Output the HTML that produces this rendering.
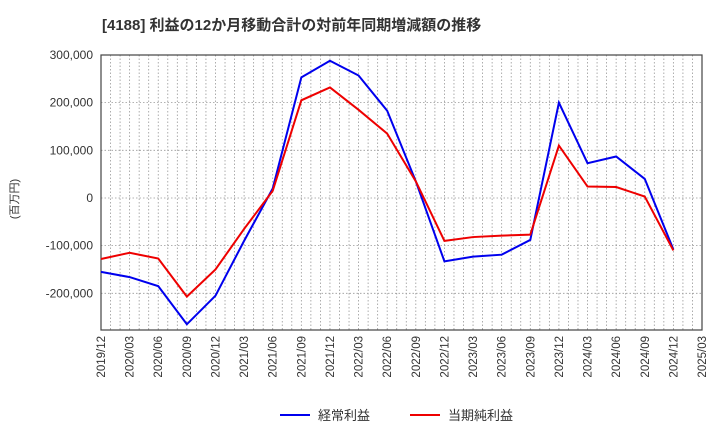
<!DOCTYPE html>
<html><head><meta charset="utf-8"><style>
body{margin:0;background:#fff;font-family:"Liberation Sans","Noto Sans CJK JP",sans-serif}
</style></head><body>
<svg id="c" width="720" height="440" xmlns="http://www.w3.org/2000/svg">
<text x="102" y="30" font-size="15" font-weight="bold" fill="#333">[4188]  利益の12か月移動合計の対前年同期増減額の推移</text>
<text transform="translate(18,199) rotate(-90)" font-size="11" fill="#333" text-anchor="middle">(百万円)</text>
<g id="grid"></g><g id="axes"></g><g id="series"></g>
<g>
<line x1="280" y1="415" x2="310" y2="415" stroke="#0000ee" stroke-width="2"/>
<text x="318" y="420" font-size="13" fill="#333">経常利益</text>
<line x1="410" y1="415" x2="440" y2="415" stroke="#ee0000" stroke-width="2"/>
<text x="448" y="420" font-size="13" fill="#333">当期純利益</text>
</g>
</svg>
<script>
const categories=["2019/12","2020/03","2020/06","2020/09","2020/12","2021/03","2021/06","2021/09","2021/12","2022/03","2022/06","2022/09","2022/12","2023/03","2023/06","2023/09","2023/12","2024/03","2024/06","2024/09","2024/12"];
const xTickLabels=["2019/12","2020/03","2020/06","2020/09","2020/12","2021/03","2021/06","2021/09","2021/12","2022/03","2022/06","2022/09","2022/12","2023/03","2023/06","2023/09","2023/12","2024/03","2024/06","2024/09","2024/12","2025/03"];
const keijo=[-155000,-166000,-185000,-265000,-205000,-90000,20000,253000,288000,257000,183000,35000,-133000,-123000,-119000,-88000,200000,73000,87000,40000,-108000];
const junri=[-128000,-115000,-127000,-207000,-150000,-65000,15000,205000,232000,185000,135000,35000,-90000,-82000,-79000,-77000,110000,24000,23000,3000,-110000];
const yTicks=[300000,200000,100000,0,-100000,-200000];
const NS="http://www.w3.org/2000/svg";
const L=101,R=702,T=55,B=330,YMAX=300000,YMIN=-277000;
const xm=m=>L+(R-L)*m/63;
const x=i=>xm(i*3);
const y=v=>T+(YMAX-v)/(YMAX-YMIN)*(B-T);
function mk(t,a,p){const e=document.createElementNS(NS,t);for(const k in a)e.setAttribute(k,a[k]);p.appendChild(e);return e;}
const g=document.getElementById('grid'),ax=document.getElementById('axes'),s=document.getElementById('series');
for(let m=0;m<=63;m++){const l=mk('line',{x1:xm(m),x2:xm(m),y1:T,y2:B,stroke:'#999','stroke-width':0.8,'stroke-dasharray':'1.5,2'},g);

}
yTicks.forEach(v=>{const l=mk('line',{x1:L,x2:R,y1:y(v),y2:y(v),stroke:'#999','stroke-width':0.8,'stroke-dasharray':'1.5,2'},g);


const t=mk('text',{x:L-8,y:y(v)+4,'font-size':12,'text-anchor':'end',fill:'#333'},ax);t.textContent=v.toLocaleString('en-US');

});
xTickLabels.forEach((lab,i)=>{const t=mk('text',{transform:`translate(${x(i)+4},${B+6}) rotate(-90)`,'font-size':11.5,'text-anchor':'end',fill:'#333'},ax);t.textContent=lab;

});
const fr=mk('rect',{x:L,y:T,width:R-L,height:B-T,fill:'none',stroke:'#444','stroke-width':1.2},ax);


[[keijo,'#0000ee','series-keijo'],[junri,'#ee0000','series-junri']].forEach(([d,c,n])=>{
const p=mk('polyline',{points:d.map((v,i)=>x(i)+','+y(v)).join(' '),fill:'none',stroke:c,'stroke-width':2},s);

});
</script>
</body></html>
